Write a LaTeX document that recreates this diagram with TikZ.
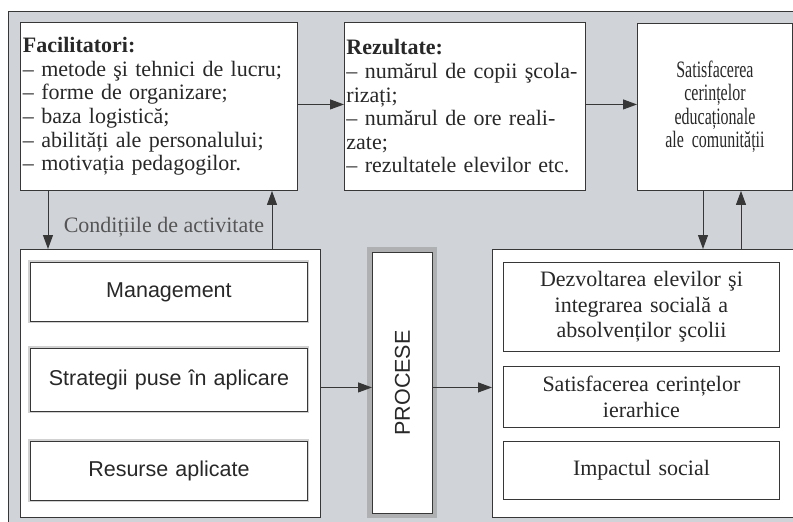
\documentclass[tikz,border=0pt]{standalone}
\usepackage{fontspec}
\setmainfont{Liberation Serif}
\setsansfont{Liberation Sans}
\newfontfamily\condserif[FakeStretch=0.68]{Liberation Serif}
\usetikzlibrary{arrows.meta,calc}
\definecolor{bggray}{RGB}{208,211,216}
\definecolor{ln}{RGB}{55,55,55}
\definecolor{tx}{RGB}{40,40,40}
\definecolor{condtx}{RGB}{85,85,85}
\begin{document}
\begin{tikzpicture}[x=1pt,y=-1pt,
  box/.style={draw=ln, line width=0.9pt, fill=white, anchor=north west, inner xsep=3pt, inner ysep=0pt, text=tx},
  arr/.style={draw=ln, line width=1pt, -{Triangle[length=14pt,width=10pt]}},
  seriftxt/.style={font=\fontsize{22}{23.6}\selectfont},
  innerbox/.style={box, minimum width=276pt, text width=268pt, align=center, font=\fontsize{22}{25.5}\selectfont},
  sansbox/.style={box, minimum width=277pt, text width=269pt, align=center, font=\sffamily\fontsize{21.5}{24}\selectfont,
    preaction={draw=black!45, line width=4pt, opacity=0.4}},
]
\useasboundingbox (0,0) rectangle (793,522);
\fill[bggray] (8,11) rectangle (793,522);
\draw[ln, line width=1pt] (8,522) -- (8,11) -- (793,11);

\node[box, minimum width=277pt, minimum height=168pt, text width=272pt, inner xsep=2pt, align=left, seriftxt] (fac) at (20,22)
  {\textbf{Facilitatori:}\\– metode şi tehnici de lucru;\\– forme de organizare;\\– baza logistică;\\– abilități ale personalului;\\– motivația pedagogilor.};

\node[box, minimum width=241pt, minimum height=168pt, text width=237pt, inner xsep=2pt, align=left, seriftxt] (rez) at (344,22)
  {\textbf{Rezultate:}\\– numărul de copii şcola-\\rizați;\\– numărul de ore reali-\\zate;\\– rezultatele elevilor etc.};

\node[box, minimum width=155pt, minimum height=167pt, text width=149pt, align=center, font=\condserif\fontsize{23.5}{23.5}\selectfont] (sat) at (637,23)
  {Satisfacerea\\cerințelor\\educaționale\\ale comunității};

\node[box, minimum width=300pt, minimum height=268pt] (lft) at (20,249) {};
\node[sansbox, minimum height=59pt] (mgmt) at (30,262) {Management};
\node[sansbox, minimum height=63pt] (strat) at (30,348) {Strategii puse în aplicare};
\node[sansbox, minimum height=59pt] (res) at (30,441) {Resurse aplicate};

\node[box, minimum width=60pt, minimum height=261pt, preaction={draw=black!40, line width=10pt, opacity=0.6}] (proc) at (372,252) {};
\node[rotate=90, text=tx, font=\sffamily\fontsize{21.5}{24}\selectfont] (proctxt) at (proc.center) {PROCESE};

\node[box, minimum width=301pt, minimum height=268pt] (rgt) at (492,249) {};
\node[innerbox, minimum height=89pt] (dez) at (503,262) {Dezvoltarea elevilor şi\\integrarea socială a\\absolvenților şcolii};
\node[innerbox, minimum height=61pt] (sat2) at (503,366) {Satisfacerea cerințelor\\ierarhice};
\node[innerbox, minimum height=58pt] (imp) at (503,441) {Impactul social};

\node[text=condtx, font=\fontsize{22}{24}\selectfont, inner sep=0pt] (cond) at (164,227) {Condițiile de activitate};

% arrows
\coordinate (f1) at ($(fac.east)+(0,-2)$);
\draw[arr] (f1) -- (f1 -| rez.west);
\coordinate (r1) at ($(rez.east)+(0,-2)$);
\draw[arr] (r1) -- (r1 -| sat.west);
\draw[arr] ($(fac.south west)+(28,0)$) -- ($(lft.north west)+(28,0)$);
\draw[arr] ($(lft.north west)+(252,0)$) -- ($(fac.south west)+(252,0)$);
\coordinate (a1) at ($(lft.east)+(0,4)$);
\draw[arr] (a1) -- (a1 -| proc.west);
\coordinate (a2) at ($(proc.east)+(0,4.5)$);
\draw[arr] (a2) -- (a2 -| rgt.west);
\draw[arr] ($(sat.south west)+(66,0)$) -- ($(rgt.north west)+(211,0)$);
\draw[arr] ($(rgt.north west)+(249,0)$) -- ($(sat.south west)+(104,0)$);
\end{tikzpicture}
\end{document}
